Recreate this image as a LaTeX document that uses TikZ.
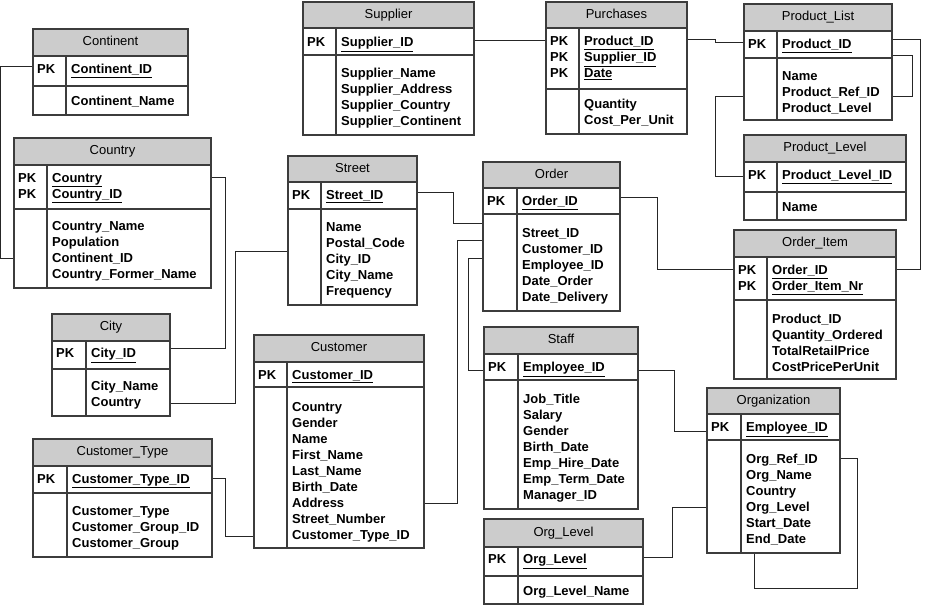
\documentclass[tikz,border=0pt]{standalone}
\usepackage{fontspec}
\setmainfont{Liberation Sans}
\usetikzlibrary{fit}

\definecolor{headgray}{RGB}{204,204,204}
\definecolor{framegray}{RGB}{60,60,60}

\tikzset{
    tblbox/.style={draw=framegray, line width=1.4pt, inner sep=0pt},
    tblline/.style={draw=framegray, line width=1.4pt},
    headfill/.style={fill=headgray},
    tbltitle/.style={font=\fontsize{13}{16}\selectfont, inner sep=0pt,
        text height=9.5pt, text depth=2.7pt},
    keys/.style={font=\fontsize{13}{16}\selectfont\bfseries, align=left,
        anchor=north west, inner sep=0pt, yshift=4.9pt},
    fields/.style={keys},
    link/.style={draw=black!85, line width=0.9pt}
}

% table frame: name, left, top, right, bottom, head line, key line, key column, title
\newcommand{\ertable}[9]{%
    \fill[headfill] (#2,#3) rectangle (#4,#6);
    \node[tblbox, fit={(#2,#3) (#4,#5)}] (#1) {};
    \draw[tblline] (#2,#6) -- (#4,#6) (#2,#7) -- (#4,#7) (#8,#6) -- (#8,#5);
    \node[tbltitle] (#1-title) at ({(#2+#4)/2},{(#3+#6)/2}) {#9};
}

\begin{document}
\begin{tikzpicture}[x=1pt, y=-1pt]
    \useasboundingbox (0,0) rectangle (927,606);

    % tables
    \ertable{continent}{33}{29}{188}{115}{56}{86}{66}{Continent}
    \node[keys] (continent-pk) at (37,69) {PK};
    \node[fields] (continent-id) at (71,69) {\underline{Continent\_ID}};
    \node[fields] (continent-f) at (71,101) {Continent\_Name};

    \ertable{country}{14}{138}{211}{288}{165}{209}{47}{Country}
    \node[keys] (country-pk) at (18,178) {PK\\PK};
    \node[fields] (country-id) at (52,178) {\underline{Country}\\\underline{Country\_ID}};
    \node[fields] (country-f) at (52,226) {Country\_Name\\Population\\Continent\_ID\\Country\_Former\_Name};

    \ertable{supplier}{303}{2}{474}{135}{28}{55}{336}{Supplier}
    \node[keys] (supplier-pk) at (307,42) {PK};
    \node[fields] (supplier-id) at (341,42) {\underline{Supplier\_ID}};
    \node[fields] (supplier-f) at (341,73) {Supplier\_Name\\Supplier\_Address\\Supplier\_Country\\Supplier\_Continent};

    \ertable{purchases}{546}{2}{687}{134}{28}{89}{579}{Purchases}
    \node[keys] (purchases-pk) at (550,41) {PK\\PK\\PK};
    \node[fields] (purchases-id) at (584,41) {\underline{Product\_ID}\\\underline{Supplier\_ID}\\\underline{Date}};
    \node[fields] (purchases-f) at (584,104) {Quantity\\Cost\_Per\_Unit};

    \ertable{productlist}{744}{4}{892}{120}{31}{58}{777}{Product\_List}
    \node[keys] (productlist-pk) at (748,44) {PK};
    \node[fields] (productlist-id) at (782,44) {\underline{Product\_ID}};
    \node[fields] (productlist-f) at (782,76) {Name\\Product\_Ref\_ID\\Product\_Level};

    \ertable{productlevel}{744}{135}{906}{220}{162}{192}{777}{Product\_Level}
    \node[keys] (productlevel-pk) at (748,175) {PK};
    \node[fields] (productlevel-id) at (782,175) {\underline{Product\_Level\_ID}};
    \node[fields] (productlevel-f) at (782,207) {Name};

    \ertable{street}{288}{156}{417}{305}{182}{209}{321}{Street}
    \node[keys] (street-pk) at (292,195) {PK};
    \node[fields] (street-id) at (326,195) {\underline{Street\_ID}};
    \node[fields] (street-f) at (326,227) {Name\\Postal\_Code\\City\_ID\\City\_Name\\Frequency};

    \ertable{order}{483}{162}{620}{311}{188}{214}{517}{Order}
    \node[keys] (order-pk) at (487,201) {PK};
    \node[fields] (order-id) at (522,201) {\underline{Order\_ID}};
    \node[fields] (order-f) at (522,233) {Street\_ID\\Customer\_ID\\Employee\_ID\\Date\_Order\\Date\_Delivery};

    \ertable{orderitem}{734}{230}{896}{379}{257}{300}{767}{Order\_Item}
    \node[keys] (orderitem-pk) at (738,270) {PK\\PK};
    \node[fields] (orderitem-id) at (772,270) {\underline{Order\_ID}\\\underline{Order\_Item\_Nr}};
    \node[fields] (orderitem-f) at (772,319) {Product\_ID\\Quantity\_Ordered\\TotalRetailPrice\\CostPricePerUnit};

    \ertable{organization}{707}{388}{840}{553}{414}{440}{741}{Organization}
    \node[keys] (organization-pk) at (711,427) {PK};
    \node[fields] (organization-id) at (746,427) {\underline{Employee\_ID}};
    \node[fields] (organization-f) at (746,459) {Org\_Ref\_ID\\Org\_Name\\Country\\Org\_Level\\Start\_Date\\End\_Date};

    \ertable{city}{52}{314}{170}{416}{341}{369}{86}{City}
    \node[keys] (city-pk) at (56,353) {PK};
    \node[fields] (city-id) at (91,353) {\underline{City\_ID}};
    \node[fields] (city-f) at (91,386) {City\_Name\\Country};

    \ertable{customertype}{33}{439}{212}{557}{466}{493}{67}{Customer\_Type}
    \node[keys] (customertype-pk) at (37,479) {PK};
    \node[fields] (customertype-id) at (72,479) {\underline{Customer\_Type\_ID}};
    \node[fields] (customertype-f) at (72,511) {Customer\_Type\\Customer\_Group\_ID\\Customer\_Group};

    \ertable{customer}{254}{335}{424}{548}{362}{387}{287}{Customer}
    \node[keys] (customer-pk) at (258,375) {PK};
    \node[fields] (customer-id) at (292,375) {\underline{Customer\_ID}};
    \node[fields] (customer-f) at (292,407) {Country\\Gender\\Name\\First\_Name\\Last\_Name\\Birth\_Date\\Address\\Street\_Number\\Customer\_Type\_ID};

    \ertable{staff}{484}{327}{638}{509}{354}{380}{518}{Staff}
    \node[keys] (staff-pk) at (488,367) {PK};
    \node[fields] (staff-id) at (523,367) {\underline{Employee\_ID}};
    \node[fields] (staff-f) at (523,399) {Job\_Title\\Salary\\Gender\\Birth\_Date\\Emp\_Hire\_Date\\Emp\_Term\_Date\\Manager\_ID};

    \ertable{orglevel}{484}{519}{643}{604}{547}{576}{518}{Org\_Level}
    \node[keys] (orglevel-pk) at (488,559) {PK};
    \node[fields] (orglevel-id) at (523,559) {\underline{Org\_Level}};
    \node[fields] (orglevel-f) at (523,591) {Org\_Level\_Name};

    % relations
    \draw[link] (continent.west |- 0,66) -- ++(-32,0) |- (country.west |- 0,258);
    \draw[link] (country.east |- 0,177) -- ++(14,0) |- (city.east |- 0,348);
    \draw[link] (city.east |- 0,403) -- ++(65,0) |- (street.west |- 0,251);
    \draw[link] (customertype.east |- 0,478) -- ++(13,0) |- (customer.west |- 0,536);
    \draw[link] (street.east |- 0,192) -- ++(36,0) |- (order.west |- 0,223);
    \draw[link] (customer.east |- 0,503) -- ++(33,0) |- (order.west |- 0,240);
    \draw[link] (order.west |- 0,258) -- ++(-14,0) |- (staff.west |- 0,370);
    \draw[link] (order.east |- 0,197) -- ++(37,0) |- (orderitem.west |- 0,269);
    \draw[link] (staff.east |- 0,370) -- ++(36,0) |- (organization.west |- 0,431);
    \draw[link] (orglevel.east |- 0,557) -- ++(29,0) |- (organization.west |- 0,507);
    \draw[link] (organization.east |- 0,458) -| (857,588) -| (organization.south -| 754,0);
    \draw[link] (productlist.east |- 0,39) -- ++(28,0) |- (orderitem.east |- 0,269);
    \draw[link] (productlist.east |- 0,55) -- ++(20,0) |- (productlist.east |- 0,96);
    \draw[link] (productlist.west |- 0,96) -- ++(-28,0) |- (productlevel.west |- 0,176);
    \draw[link] (purchases.east |- 0,39) -- ++(28,0) -- ++(0,3) -- (productlist.west |- 0,42);
    \draw[link] (supplier.east |- 0,40) -- (purchases.west |- 0,40);
\end{tikzpicture}
\end{document}
